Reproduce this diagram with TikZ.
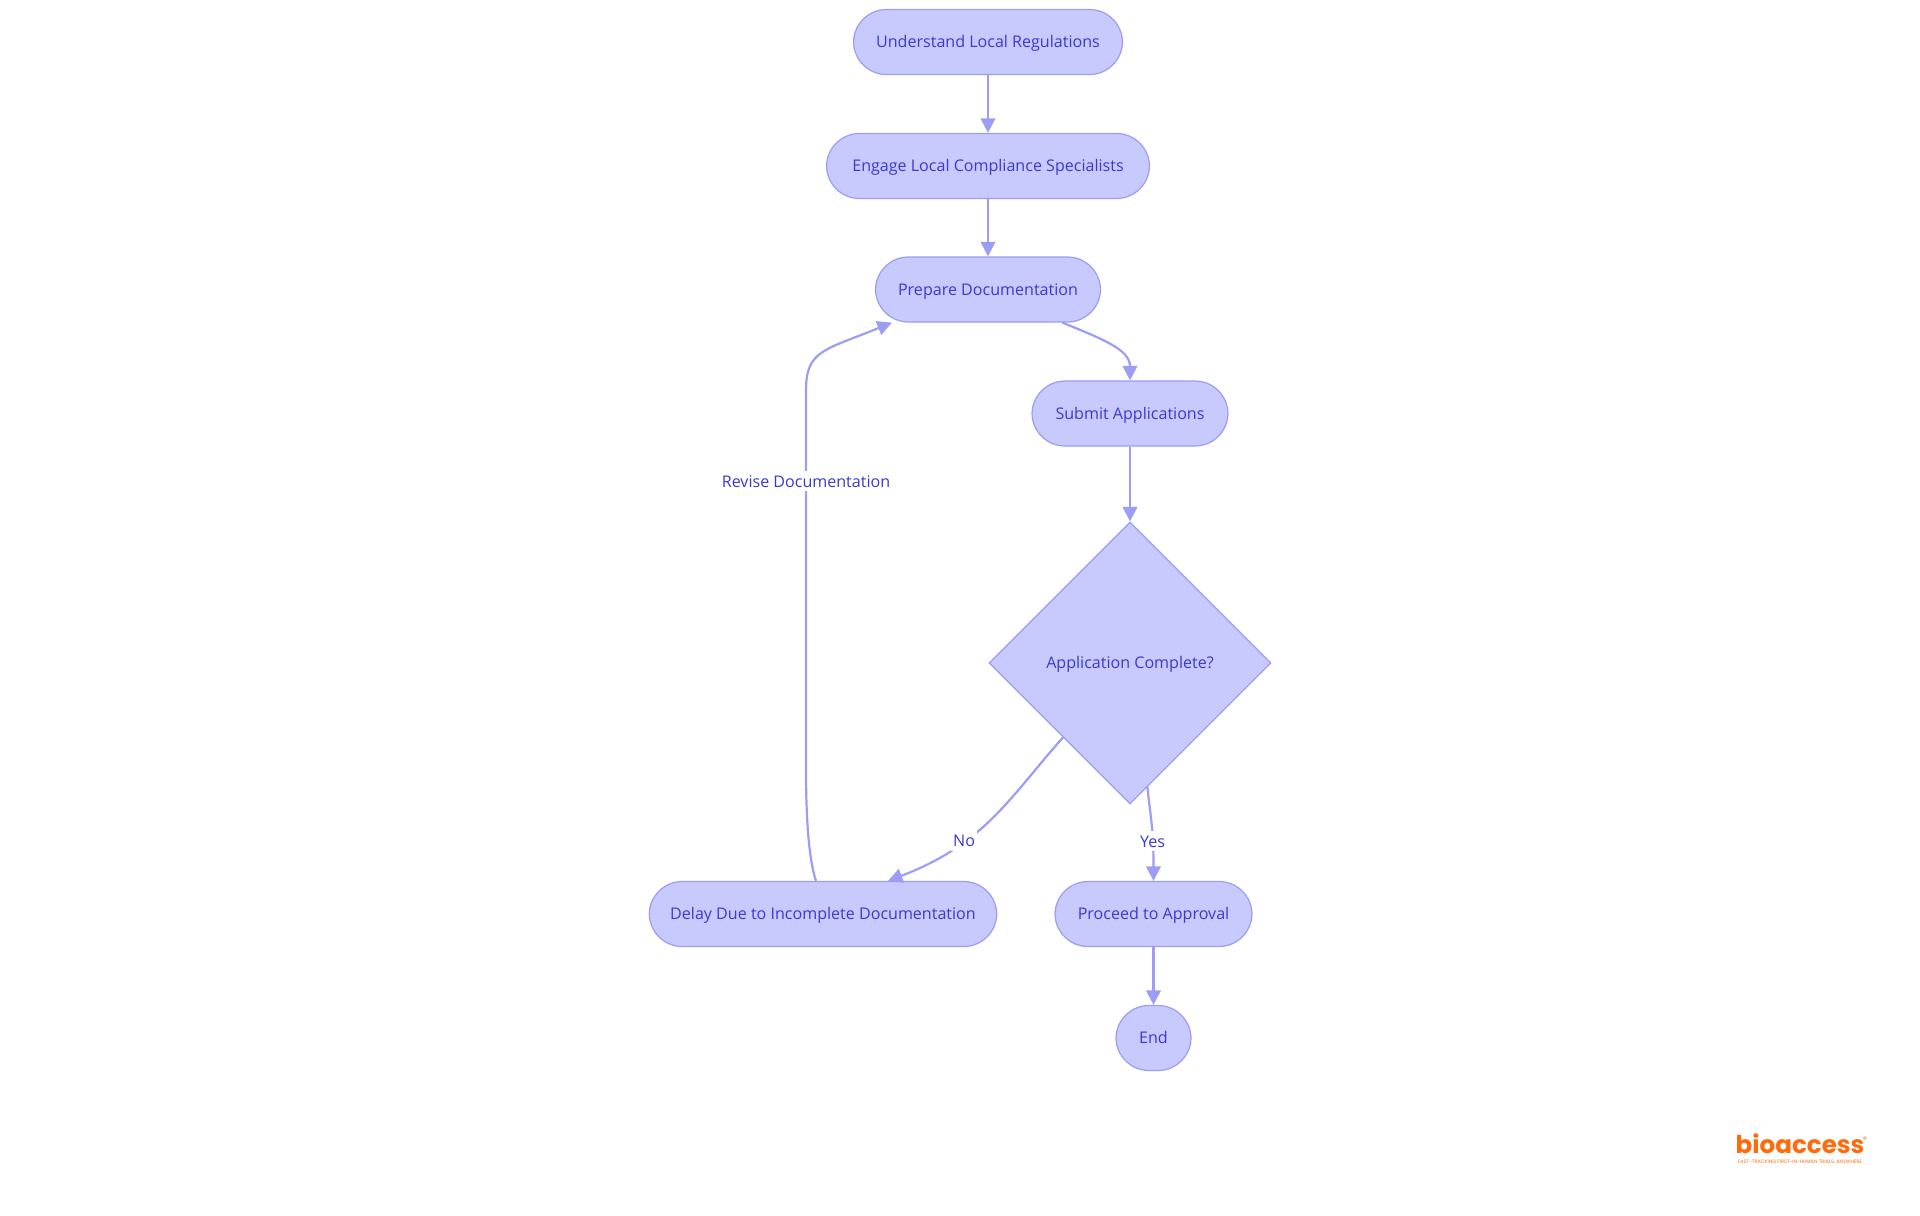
\documentclass[tikz,border=0pt]{standalone}
\usepackage{xcolor}
\usepackage{fontspec}
\setmainfont{Open Sans}
\newfontfamily\logofont{Poppins}
\usepackage{tikz}
\usetikzlibrary{arrows.meta,shapes.geometric}
\definecolor{boxfill}{HTML}{C8C9FD}
\definecolor{boxline}{HTML}{9C9DF5}
\definecolor{boxtext}{HTML}{3A3AD0}
\definecolor{logoorange}{HTML}{FF6B0A}
\tikzset{
    flowtext/.style={text=boxtext,text height=8pt,text depth=1.4pt,font=\fontsize{9.15}{11}\selectfont},
    flowbox/.style={flowtext,fill=boxfill,draw=boxline,line width=0.7pt,rounded corners=0.66cm,minimum height=1.3cm},
    flowcheck/.style={flowtext,fill=boxfill,draw=boxline,line width=0.7pt,shape=diamond,aspect=1,inner sep=0pt,minimum width=5.64cm,minimum height=5.64cm},
    flowline/.style={draw=boxline,line width=1.25pt,-{Triangle[length=0.29cm,width=0.29cm]}},
    flowlabel/.style={flowtext,fill=white,inner sep=1pt}
}
\begin{document}
\begin{tikzpicture}[x=0.02cm,y=-0.02cm]
    \useasboundingbox (0,0) rectangle (1920,1215);
    \node[flowbox,minimum width=5.38cm] (understand) at (988,42) {Understand Local Regulations};
    \node[flowbox,minimum width=6.46cm] (engage) at (988,166) {Engage Local Compliance Specialists};
    \node[flowbox,minimum width=4.5cm] (prepare) at (988,289.5) {Prepare Documentation};
    \node[flowbox,minimum width=3.92cm] (submit) at (1130,413.5) {Submit Applications};
    \node[flowcheck] (check) at (1130,663) {Application Complete?};
    \node[flowbox,minimum width=6.95cm] (delay) at (823,914) {Delay Due to Incomplete Documentation};
    \node[flowbox,minimum width=3.94cm] (proceed) at (1153.5,914) {Proceed to Approval};
    \node[flowbox,minimum width=1.5cm] (finish) at (1153.5,1038) {End};

    \draw[flowline] (understand) -- (engage);
    \draw[flowline] (engage) -- (prepare);
    \draw[flowline] (prepare.-24.5) .. controls (1105,340) and (1130,350) .. (submit.north);
    \draw[flowline] (submit) -- (check);
    \draw[flowline] (check.228) .. controls (1010,797) and (985,844) .. node[flowlabel,pos=0.67] {No} (delay.27);
    \draw[flowline] (check.-82.3) .. controls (1150,815) and (1153.5,825) .. node[flowlabel,pos=0.7] {Yes} (proceed.north);
    \draw[flowline] (proceed) -- (finish);
    \draw[flowline] (delay.102.5) .. controls (809,860) and (806,820) .. (806,770) -- node[flowlabel,pos=0.76] {Revise Documentation} (806,390) .. controls (806,350) and (825,350) .. (prepare.199.4);

    \node[text=logoorange,inner sep=0pt,font=\logofont\bfseries\fontsize{14}{15}\selectfont] (logo) at (1800,1144) {bioaccess};
    \node[text=logoorange,inner sep=0pt,font=\logofont\fontsize{4.5}{5}\selectfont] (logomark) at (1865,1140) {®};
    \node[text=logoorange,inner sep=0pt,font=\logofont\fontsize{2.8}{3}\selectfont] (logotag) at (1800,1162) {FAST-TRACKING FIRST-IN-HUMAN TRIALS, ANYWHERE};
\end{tikzpicture}
\end{document}
